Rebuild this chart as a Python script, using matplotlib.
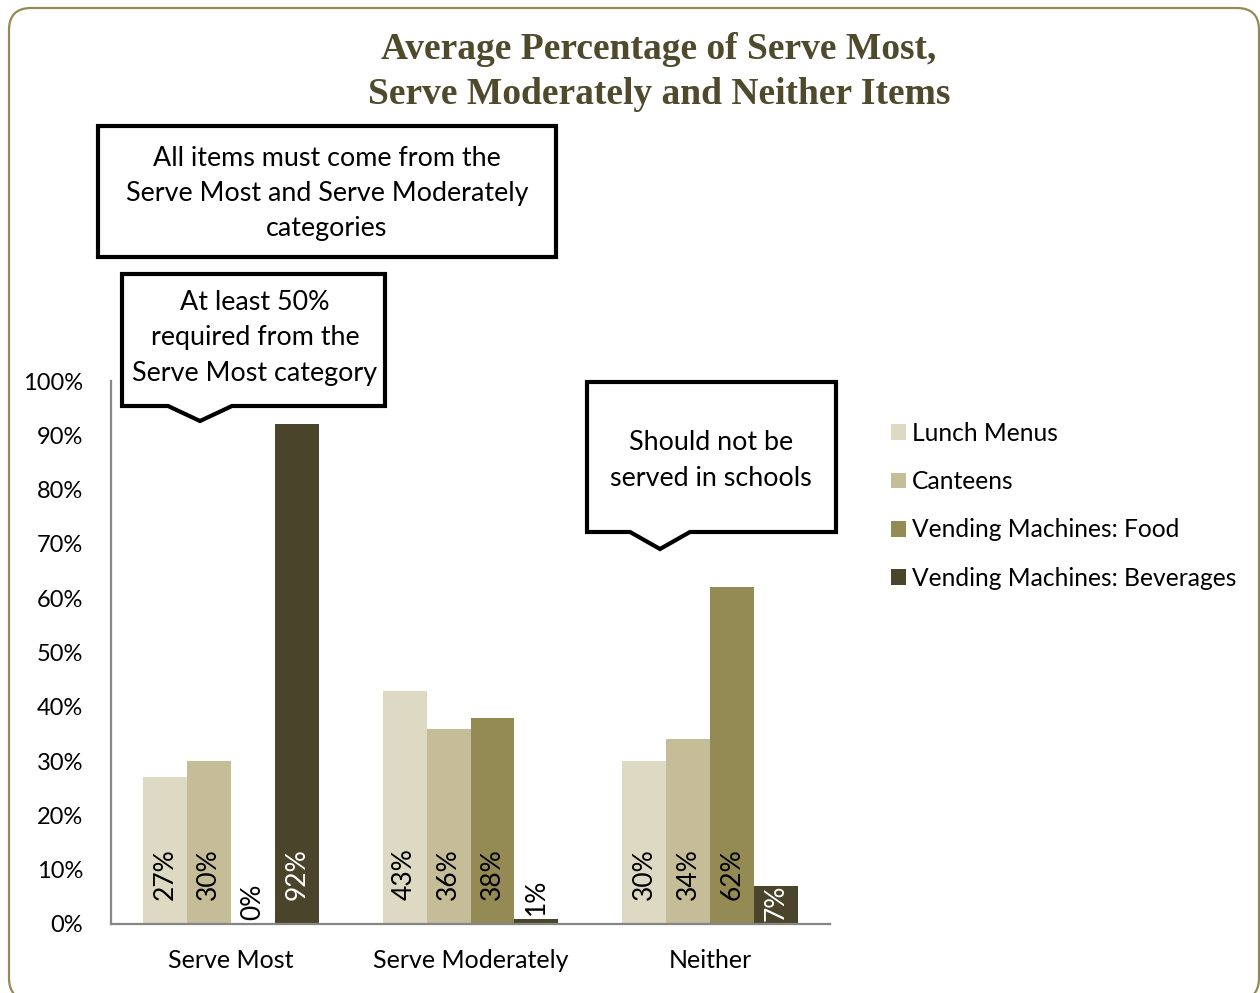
import numpy as np
import matplotlib
matplotlib.use("Agg")
import matplotlib.pyplot as plt
from matplotlib.patches import Polygon, FancyBboxPatch
from matplotlib.transforms import IdentityTransform

# ---- data ----
categories = ["Serve Most", "Serve Moderately", "Neither"]
series_names = ["Lunch Menus", "Canteens", "Vending Machines: Food",
                "Vending Machines: Beverages"]
lunch_menus = [27, 43, 30]
canteens = [30, 36, 34]
vending_food = [0, 38, 62]
vending_beverages = [92, 1, 7]
series_values = [lunch_menus, canteens, vending_food, vending_beverages]
series_colors = ["#DDD9C3", "#C4BD97", "#948A54", "#4A452A"]
label_colors = ["black", "black", "black", "white"]
y_ticks = list(range(0, 101, 10))

W, H = 1260, 993
FONT = "Lato"

fig = plt.figure(figsize=(W / 100, H / 100), dpi=100)
fig.patch.set_facecolor("white")


def fx(x):
    return x / W


def fy(y):
    return 1 - y / H


# plot area
ax_l, ax_r, ax_t, ax_b = 111, 830, 381, 924
ax = fig.add_axes([fx(ax_l), fy(ax_b), (ax_r - ax_l) / W, (ax_b - ax_t) / H])

n = len(series_values)
bar_w = 44 / 240
x = np.arange(len(categories))
px_per_unit = (ax_b - ax_t) / 100.0

for i, (name, vals, col, lcol) in enumerate(zip(series_names, series_values,
                                                series_colors, label_colors)):
    xs = x + (i - (n - 1) / 2) * bar_w
    ax.bar(xs, vals, width=bar_w, color=col, label=name, zorder=2)
    for xi, v in zip(xs, vals):
        txt = f"{v}%"
        lab_len = (len(txt) * 16.5) / px_per_unit
        if v >= lab_len:
            y0 = min(4.5, (v - lab_len) / 2)
            ax.text(xi, y0, txt, rotation=90, ha="center", va="bottom",
                    fontsize=19, color=lcol, family=FONT, zorder=3)
        else:
            ax.text(xi, v + 0.7, txt, rotation=90, ha="center", va="bottom",
                    fontsize=19, color="black", family=FONT, zorder=3)

ax.set_xlim(-0.5, len(categories) - 0.5)
ax.set_ylim(0, 100)
ax.set_yticks(y_ticks)
ax.set_yticklabels([f"{t}%" for t in y_ticks], family=FONT, fontsize=17)
ax.set_xticks(x)
ax.set_xticklabels(categories, family=FONT, fontsize=18)
ax.tick_params(axis="y", length=0, pad=20)
ax.tick_params(axis="x", length=0, pad=18)
for s in ["top", "right"]:
    ax.spines[s].set_visible(False)
for s in ["left", "bottom"]:
    ax.spines[s].set_color("#868686")
    ax.spines[s].set_linewidth(1.6)

# legend
leg = fig.legend(loc="upper left", bbox_to_anchor=(fx(881), fy(412)),
                 frameon=False, prop={"family": FONT, "size": 17.7},
                 handlelength=0.6, handleheight=0.6, handletextpad=0.25,
                 labelspacing=1.03, borderaxespad=0)

# title
fig.text(fx(659), fy(72),
         "Average Percentage of Serve Most,\nServe Moderately and Neither Items",
         ha="center", va="center", fontsize=27, fontweight="bold",
         family="Liberation Serif", color="#4F4A2C", linespacing=1.34)

# outer rounded frame (pixel coordinates)
frame = FancyBboxPatch((9, H - 1000), 1250, 1000 - 8,
                       boxstyle="round,pad=0,rounding_size=22",
                       transform=IdentityTransform(), facecolor="none",
                       edgecolor="#948A54", linewidth=1.6, zorder=0)
fig.add_artist(frame)


def callout(L, T, R, B, pointer=None):
    pts = [(L, T), (R, T), (R, B)]
    if pointer is not None:
        p1, tip_x, tip_y, p2 = pointer
        pts += [(p2, B), (tip_x, tip_y), (p1, B)]
    pts += [(L, B)]
    pts = [(px, H - py) for px, py in pts]
    poly = Polygon(pts, closed=True, transform=IdentityTransform(),
                   facecolor="white", edgecolor="black", linewidth=3.0,
                   joinstyle="miter", zorder=5)
    fig.add_artist(poly)


CALLOUT_FS = 19.4
CALLOUT_LS = 1.52

callout(98, 126, 556, 257)
fig.text(fx(327), fy(193.5),
         "All items must come from the\nServe Most and Serve Moderately\ncategories",
         ha="center", va="center", fontsize=CALLOUT_FS, family=FONT,
         linespacing=CALLOUT_LS, zorder=6)

callout(122, 274, 385, 406, pointer=(168, 200, 421, 232))
fig.text(fx(255), fy(338),
         "At least 50%\nrequired from the\nServe Most category",
         ha="center", va="center", fontsize=CALLOUT_FS, family=FONT,
         linespacing=CALLOUT_LS, zorder=6)

callout(587, 382, 836, 532, pointer=(630, 660, 549, 690))
fig.text(fx(711), fy(460.5), "Should not be\nserved in schools",
         ha="center", va="center", fontsize=CALLOUT_FS, family=FONT,
         linespacing=CALLOUT_LS, zorder=6)

fig.savefig("out.png", dpi=100, facecolor="white")
